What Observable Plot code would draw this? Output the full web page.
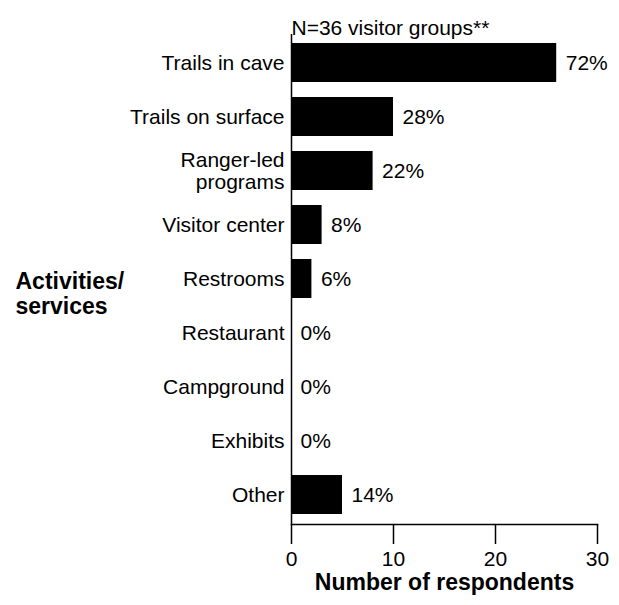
<!DOCTYPE html>
<html>
<head>
<meta charset="utf-8">
<script src="https://cdn.jsdelivr.net/npm/d3@7"></script>
<script src="https://cdn.jsdelivr.net/npm/@observablehq/plot@0.6"></script>
<style>
  html, body { margin: 0; padding: 0; background: #fff; }
</style>
</head>
<body>
<div id="chart"></div>
<script>
const categories = ["Trails in cave", "Trails on surface", "Ranger-led programs", "Visitor center", "Restrooms", "Restaurant", "Campground", "Exhibits", "Other"];
const tickLabels = ["Trails in cave", "Trails on surface", "Ranger-led\nprograms", "Visitor center", "Restrooms", "Restaurant", "Campground", "Exhibits", "Other"];
const counts = [26, 10, 8, 3, 2, 0, 0, 0, 5];
const percents = ["72%", "28%", "22%", "8%", "6%", "0%", "0%", "0%", "14%"];
const xTicks = [0, 10, 20, 30];
const topNote = ["N=36 visitor groups**"];
const xTitle = ["Number of respondents"];
const yTitle = ["Activities/\nservices"];

const data = categories.map((c, i) => ({cat: c, count: counts[i], pct: percents[i]}));
const labelOf = new Map(categories.map((c, i) => [c, tickLabels[i]]));

const chart = Plot.plot({
  width: 619,
  height: 605,
  marginLeft: 291,
  marginRight: 22,
  marginTop: 34,
  marginBottom: 81,
  style: {fontFamily: "Arial, 'Liberation Sans', sans-serif", fontSize: "21px", color: "#000", background: "#fff"},
  x: {domain: [0, 30]},
  y: {domain: categories, paddingInner: 0.27, paddingOuter: 0.135},
  marks: [
    Plot.barX(data, {x: "count", y: "cat", fill: "#000"}),
    Plot.text(data, {x: "count", y: "cat", text: "pct", textAnchor: "start", dx: 9, fontSize: 21, fill: "#000"}),
    Plot.ruleX([0], {stroke: "#000", strokeWidth: 1.5}),
    Plot.frame({anchor: "bottom", stroke: "#000", strokeWidth: 1.5}),
    Plot.axisX({ticks: xTicks, tickSize: 20, tickPadding: 7, label: null, fontSize: 21, strokeWidth: 1.5}),
    Plot.axisY({tickSize: 0, tickPadding: 7, label: null, fontSize: 21, lineHeight: 1.05, tickFormat: d => labelOf.get(d)}),
    Plot.text(topNote, {frameAnchor: "top-left", textAnchor: "start", dy: -14, fontSize: 21, fill: "#000"}),
    Plot.text(xTitle, {frameAnchor: "bottom", dy: 65, fontSize: 23, fontWeight: "bold", fill: "#000"}),
    Plot.text(yTitle, {frameAnchor: "left", textAnchor: "start", dx: -276, dy: 14, fontSize: 23, fontWeight: "bold", lineHeight: 1.1, fill: "#000"})
  ]
});
document.getElementById("chart").appendChild(chart);
</script>
</body>
</html>
